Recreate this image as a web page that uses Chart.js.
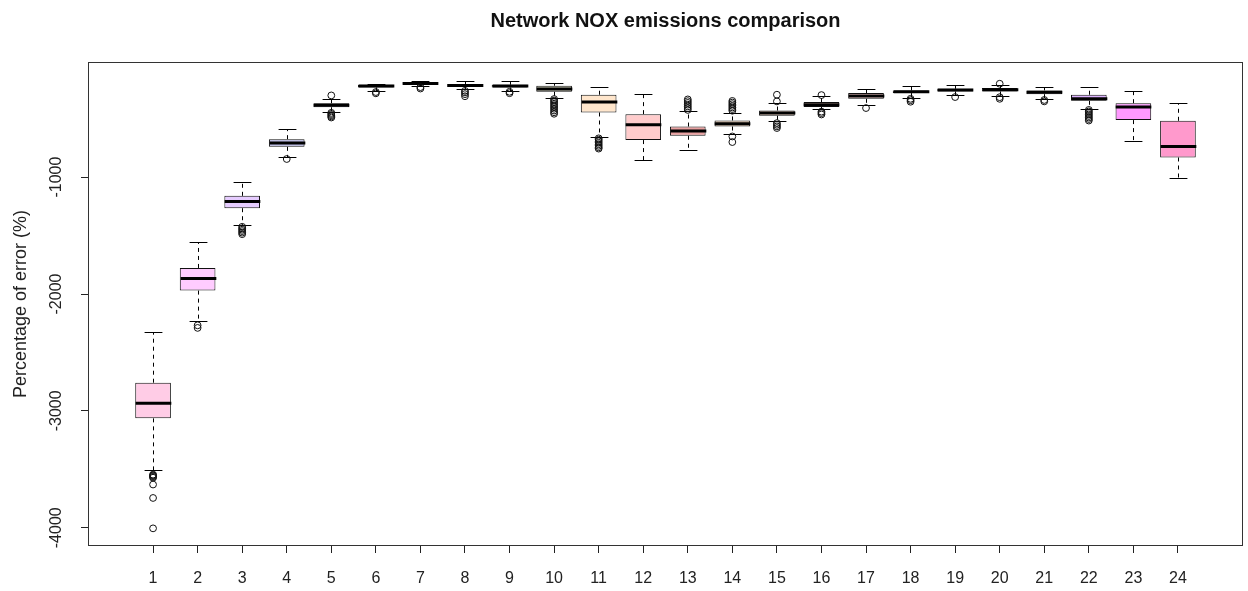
<!DOCTYPE html>
<html>
<head>
<meta charset="utf-8">
<title>Network NOX emissions comparison</title>
<script src="https://cdn.jsdelivr.net/npm/chart.js@4.4.1/dist/chart.umd.min.js"></script>
<style>
    html, body { margin: 0; padding: 0; background: #fff; }
    #wrap { width: 1248px; height: 591px; }
</style>
</head>
<body>
<div id="wrap"><canvas id="noxChart" width="1248" height="591"></canvas></div>
<script>
// Box statistics per group
const labels = ['1', '2', '3', '4', '5', '6', '7', '8', '9', '10', '11', '12',
                '13', '14', '15', '16', '17', '18', '19', '20', '21', '22', '23', '24'];

const whiskerLow  = [-3506, -2228, -1408, -832, -440, -259, -218, -250, -259, -324, -657, -852,
                     -766, -629, -524, -413, -381, -324, -301, -310, -332, -418, -687, -1009];
const q1          = [-3064, -1971, -1266, -741, -402, -233, -210, -229, -233, -270, -447, -683,
                     -646, -567, -475, -400, -330, -281, -267, -267, -290, -347, -512, -832];
const median      = [-2935, -1868, -1209, -709, -385, -221, -198, -217, -221, -245, -358, -552,
                     -606, -544, -452, -380, -305, -270, -255, -252, -274, -330, -401, -738];
const q3          = [-2759, -1777, -1160, -675, -368, -210, -187, -204, -210, -218, -295, -461,
                     -567, -515, -430, -358, -281, -258, -244, -238, -258, -295, -367, -518];
const whiskerHigh = [-2322, -1557, -1043, -592, -332, -199, -176, -181, -181, -195, -233, -290,
                     -438, -452, -367, -310, -244, -224, -210, -216, -233, -233, -261, -370];

const outliers = [
    [-3545, -3552, -3558, -3565, -3572, -3630, -3745, -4005],
    [-2268, -2290],
    [-1425, -1438, -1450, -1462, -1475, -1488],
    [-845],
    [-301, -450, -460, -470, -480, -490],
    [-272, -283],
    [-230, -242],
    [-262, -275, -290, -308],
    [-270, -282],
    [-332, -345, -358, -372, -386, -400, -415, -430, -445, -458],
    [-668, -680, -693, -706, -719, -732, -745, -756],
    [],
    [-335, -350, -365, -380, -395, -410, -425],
    [-348, -362, -376, -390, -404, -418, -432, -652, -700],
    [-295, -352, -538, -552, -566, -580],
    [-298, -440, -452, -464],
    [-409],
    [-330, -342, -355],
    [-315],
    [-201, -316, -330],
    [-340, -352],
    [-425, -438, -451, -464, -477, -490, -503, -516],
    [],
    []
];

const boxColors = ['#FFCCE6', '#FFCCFF', '#E6CCFF', '#BBBBE6', '#CCCCFF', '#CCE0FF', '#CCF0FF', '#CCFFF0',
                   '#D6FFCC', '#D9D9C0', '#FFE6CC', '#FFCCCC', '#E8A0A0', '#E6CCB3', '#FFE0CC', '#FFD9CC',
                   '#FFD0D0', '#FFCCE0', '#F0CCFF', '#E6CCFF', '#DDCCFF', '#DDB3FF', '#FF99FF', '#FF99CC'];

const yTicks = [-4000, -3000, -2000, -1000];

Chart.defaults.font.family = '"Liberation Sans", Arial, sans-serif';
Chart.defaults.color = '#222';

// whiskers, caps and median lines, drawn right after the boxes
const boxPartsPlugin = {
    id: 'boxParts',
    afterDatasetDraw(chart, args) {
        if (args.index !== 0) return;
        const ctx = chart.ctx;
        const yScale = chart.scales.y;
        ctx.save();
        args.meta.data.forEach((bar, i) => {
            const cx = Math.round(bar.x) + 0.5;
            const half = bar.width / 2;
            const pLow = Math.round(yScale.getPixelForValue(whiskerLow[i])) + 0.5;
            const pQ1 = yScale.getPixelForValue(q1[i]);
            const pQ3 = yScale.getPixelForValue(q3[i]);
            const pHigh = Math.round(yScale.getPixelForValue(whiskerHigh[i])) + 0.5;
            const pMed = yScale.getPixelForValue(median[i]);

            // dashed whiskers
            ctx.strokeStyle = '#000';
            ctx.lineWidth = 1;
            ctx.setLineDash([4, 4]);
            ctx.beginPath();
            ctx.moveTo(cx, pQ1);
            ctx.lineTo(cx, pLow);
            ctx.moveTo(cx, pQ3);
            ctx.lineTo(cx, pHigh);
            ctx.stroke();

            // caps
            ctx.setLineDash([]);
            ctx.beginPath();
            ctx.moveTo(cx - half / 2, pLow);
            ctx.lineTo(cx + half / 2, pLow);
            ctx.moveTo(cx - half / 2, pHigh);
            ctx.lineTo(cx + half / 2, pHigh);
            ctx.stroke();

            // median
            ctx.lineWidth = 3;
            ctx.beginPath();
            ctx.moveTo(cx - half, pMed);
            ctx.lineTo(cx + half, pMed);
            ctx.stroke();
        });
        ctx.restore();
    }
};

// box round the plot region
const framePlugin = {
    id: 'frame',
    afterDraw(chart) {
        const { ctx, chartArea } = chart;
        ctx.save();
        ctx.strokeStyle = '#333';
        ctx.lineWidth = 1;
        ctx.strokeRect(chartArea.left + 0.5, chartArea.top + 0.5,
                       chartArea.right - chartArea.left - 1, chartArea.bottom - chartArea.top - 1);
        ctx.restore();
    }
};

const outlierPoints = [];
outliers.forEach((list, i) => {
    list.forEach(v => outlierPoints.push({ x: i + 1, y: v }));
});

const ctx = document.getElementById('noxChart');
new Chart(ctx, {
    type: 'bar',
    data: {
        datasets: [{
            label: 'box',
            data: labels.map((l, i) => ({ x: i + 1, y: [q1[i], q3[i]] })),
            backgroundColor: boxColors,
            borderColor: '#111',
            borderWidth: 1,
            borderSkipped: false,
            categoryPercentage: 0.8,
            barPercentage: 1,
            order: 1
        }, {
            type: 'scatter',
            label: 'outliers',
            data: outlierPoints,
            pointStyle: 'circle',
            pointRadius: 3.4,
            pointBorderWidth: 1,
            borderColor: '#111',
            backgroundColor: 'rgba(255,255,255,0)',
            order: 0
        }]
    },
    options: {
        responsive: false,
        animation: false,
        layout: { padding: { left: 0, right: 2, top: 0, bottom: 0 } },
        plugins: {
            legend: { display: false },
            tooltip: { enabled: false },
            title: {
                display: true,
                text: 'Network NOX emissions comparison',
                fullSize: false,
                color: '#111',
                font: { size: 20, weight: 'bold' },
                padding: { top: 9, bottom: 29 }
            }
        },
        scales: {
            x: {
                type: 'linear',
                min: -0.46,
                max: 25.46,
                offset: false,
                grid: { offset: false, drawOnChartArea: false, tickLength: 7, color: '#222' },
                border: { display: false },
                ticks: {
                    autoSkip: false,
                    maxRotation: 0,
                    padding: 16,
                    font: { size: 16 },
                    callback: (value) => labels[value - 1]
                },
                afterBuildTicks: (scale) => {
                    scale.ticks = labels.map((l, i) => ({ value: i + 1 }));
                },
                afterFit: (scale) => { scale.height = 45; }
            },
            y: {
                type: 'linear',
                min: -4156,
                max: -15,
                grid: { drawOnChartArea: false, tickLength: 7, color: '#222' },
                border: { display: false },
                ticks: {
                    autoSkip: false,
                    minRotation: 90,
                    maxRotation: 90,
                    crossAlign: 'center',
                    padding: 4,
                    font: { size: 16 },
                    callback: (value) => String(value)
                },
                afterBuildTicks: (scale) => {
                    scale.ticks = yTicks.map(v => ({ value: v }));
                },
                title: {
                    display: true,
                    text: 'Percentage of error (%)',
                    font: { size: 18 },
                    padding: { top: 10, bottom: 0 }
                },
                afterFit: (scale) => { scale.width = 88; }
            }
        }
    },
    plugins: [boxPartsPlugin, framePlugin]
});
</script>
</body>
</html>
